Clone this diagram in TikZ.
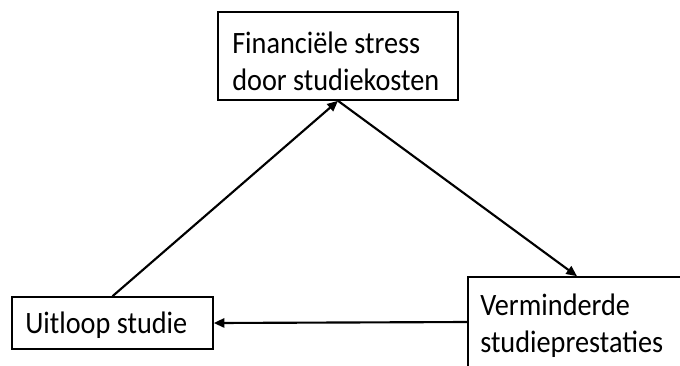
\documentclass[tikz,border=0pt]{standalone}
\usepackage{fontspec}
\setmainfont{Carlito}
\usepackage{tikz}
\usetikzlibrary{arrows.meta}
\definecolor{ink}{HTML}{000000}
\tikzset{
  box/.style={draw=ink, line width=1.2pt, rectangle, inner sep=0pt},
  lab/.style={align=left, anchor=west, inner sep=0pt, yscale=1.1, transform shape,
    font=\fontsize{21.2}{25.2}\selectfont},
  link/.style={draw=ink, line width=1.6pt, -{Triangle[length=8pt,width=7pt]}},
}

\begin{document}
\begin{tikzpicture}[x=0.75pt,y=-0.75pt]
  \clip (0,0) rectangle (680,365);
  \fill[white] (0,0) rectangle (680,365);
  % boxes
  \node[box, minimum width=180pt, minimum height=66pt] (stress) at (338,56) {};
  \node[box, minimum width=150.75pt, minimum height=39pt] (uitloop) at (112.5,323) {};
  \node[box, minimum width=163.5pt, minimum height=67.5pt] (prestatie) at (577,322) {};
  % texts
  \node[lab] (stress-txt) at (232,61) {Financiële stress\\door studiekosten};
  \node[lab] (uitloop-txt) at (25,325) {Uitloop studie};
  \node[lab] (prestatie-txt) at (480,326) {Verminderde\\studieprestaties};
  % arrows
  \draw[link] (uitloop.north) -- (stress.south);
  \draw[link] (stress.south) -- (prestatie.north);
  \draw[link] (prestatie.west) -- (uitloop.east);
\end{tikzpicture}
\end{document}
